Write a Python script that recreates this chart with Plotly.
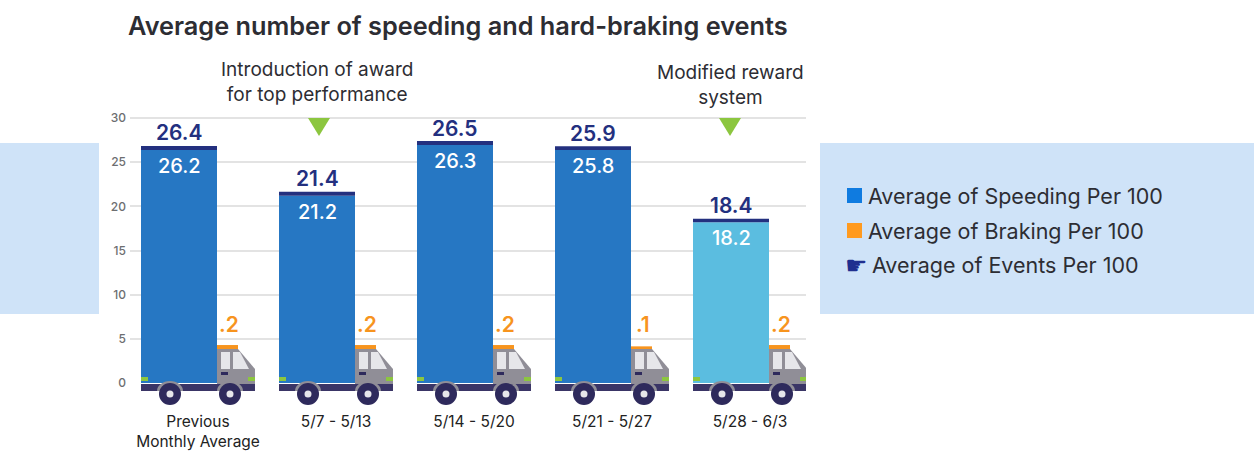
import plotly.graph_objects as go

# Data
periods = ["Previous<br>Monthly Average", "5/7 - 5/13", "5/14 - 5/20", "5/21 - 5/27", "5/28 - 6/3"]
events_labels = ["26.4", "21.4", "26.5", "25.9", "18.4"]
speeding_labels = ["26.2", "21.2", "26.3", "25.8", "18.2"]
braking_labels = [".2", ".2", ".2", ".1", ".2"]

# heights as drawn in the picture (they differ a little from the printed labels)
speeding_drawn = [26.4, 21.2, 26.95, 26.4, 18.2]
events_cap = [0.45, 0.45, 0.45, 0.4, 0.4]
braking_drawn = [0.45, 0.45, 0.45, 0.3, 0.45]

y_ticks = [0, 5, 10, 15, 20, 25, 30]
legend_labels = ["Average of Speeding Per 100", "Average of Braking Per 100", "Average of Events Per 100"]

FONT = "Inter"
W, H = 1254, 459
BLUE = "#2677c3"
LIGHT_BLUE = "#5bbde0"
NAVY = "#23307f"
ORANGE = "#f7941e"
GREEN = "#8cc63f"
GREY = "#908e97"
CHASSIS = "#3a3566"
WHEEL = "#2e2a5c"
PANEL = "#cfe3f8"
WINDOW = "#e6e6ea"
INK = "#2d2d33"

X0_PX, STEP_PX = 198, 138      # pixel of first group centre, pixels between groups
Y0_PX, UNIT_PX = 383, 8.83     # pixel of y=0, pixels per unit


def dx(px):
    return (px - X0_PX) / STEP_PX


def dy(px):
    return (Y0_PX - px) / UNIT_PX


xs = list(range(len(periods)))
fig = go.Figure()

fig.add_trace(go.Bar(
    x=xs, y=speeding_drawn, width=76 / STEP_PX, offset=-57 / STEP_PX,
    marker=dict(color=[BLUE, BLUE, BLUE, BLUE, LIGHT_BLUE], line_width=0),
    name=legend_labels[0],
))
fig.add_trace(go.Bar(
    x=xs, y=events_cap, base=speeding_drawn, width=76 / STEP_PX, offset=-57 / STEP_PX,
    marker=dict(color=NAVY, line_width=0), name=legend_labels[2],
))
fig.add_trace(go.Bar(
    x=xs, y=braking_drawn, base=dy(349), width=21 / STEP_PX, offset=19 / STEP_PX,
    marker=dict(color=ORANGE, line_width=0), name=legend_labels[1],
))

shapes = []
annotations = []


def paper_rect(x0, y0, x1, y1, color, layer="below"):
    shapes.append(dict(type="rect", xref="paper", yref="paper", x0=x0 / W, x1=x1 / W,
                       y0=1 - y0 / H, y1=1 - y1 / H, fillcolor=color, line_width=0, layer=layer))


def poly(points, color):
    path = "M " + " L ".join(f"{dx(a):.4f},{dy(b):.4f}" for a, b in points) + " Z"
    shapes.append(dict(type="path", path=path, fillcolor=color, line_width=0, layer="above"))


def circle(cx, cy, r, color):
    shapes.append(dict(type="circle", x0=dx(cx - r), x1=dx(cx + r), y0=dy(cy + r), y1=dy(cy - r),
                       fillcolor=color, line_width=0, layer="above"))


def arch(cx, base, rx, ry, color):
    kx, ky = 0.55 * rx, 0.55 * ry
    p = (f"M {dx(cx - rx):.4f},{dy(base):.4f} "
         f"C {dx(cx - rx):.4f},{dy(base - ky):.4f} {dx(cx - kx):.4f},{dy(base - ry):.4f} {dx(cx):.4f},{dy(base - ry):.4f} "
         f"C {dx(cx + kx):.4f},{dy(base - ry):.4f} {dx(cx + rx):.4f},{dy(base - ky):.4f} {dx(cx + rx):.4f},{dy(base):.4f} Z")
    shapes.append(dict(type="path", path=p, fillcolor=color, line_width=0, layer="above"))


def text(px, py, s, size, color, weight=400, anchor="center", family=FONT):
    annotations.append(dict(xref="paper", yref="paper", x=px / W, y=1 - py / H, text=s, showarrow=False,
                            xanchor=anchor, yanchor="middle",
                            font=dict(family=family, size=size, color=color, weight=weight)))


# side panels
paper_rect(0, 143, 99, 314, PANEL)
paper_rect(820, 143, W, 314, PANEL)

# truck drawn around each bar
for i in xs:
    o = i * STEP_PX
    poly([(217 + o, 349), (238 + o, 349), (255 + o, 369), (255 + o, 384), (217 + o, 384)], GREY)
    poly([(221 + o, 352), (230 + o, 352), (230 + o, 369), (221 + o, 369)], WINDOW)
    poly([(233 + o, 352), (240 + o, 352), (249 + o, 369), (233 + o, 369)], WINDOW)
    poly([(221 + o, 372), (228 + o, 372), (228 + o, 375), (221 + o, 375)], WHEEL)
    poly([(141 + o, 377), (148 + o, 377), (148 + o, 381), (141 + o, 381)], GREEN)
    poly([(248 + o, 377), (255 + o, 377), (255 + o, 381), (248 + o, 381)], GREEN)
    poly([(141 + o, 384), (255 + o, 384), (255 + o, 391), (141 + o, 391)], CHASSIS)
    for cx in (170 + o, 230 + o):
        arch(cx, 391, 13, 10, GREY)
        circle(cx, 394, 11, WHEEL)
        circle(cx, 394, 3.5, WINDOW)

    bar_x = i - 19 / STEP_PX
    top = speeding_drawn[i] + events_cap[i]
    annotations.append(dict(x=bar_x, y=top, text=events_labels[i], showarrow=False, yshift=13, yanchor="middle",
                            font=dict(family=FONT, size=21, color=NAVY, weight=600)))
    annotations.append(dict(x=bar_x, y=speeding_drawn[i], text=speeding_labels[i], showarrow=False, yshift=-16,
                            yanchor="middle", font=dict(family=FONT, size=20, color="white", weight=500)))
    annotations.append(dict(x=i + 31 / STEP_PX, y=dy(324), text=braking_labels[i], showarrow=False, yanchor="middle",
                            font=dict(family=FONT, size=21, color=ORANGE, weight=600)))

# darker top grid line
shapes.append(dict(type="line", x0=dx(130), x1=dx(806), y0=30, y1=30, line=dict(color="#cfcfcf", width=2), layer="below"))

# note triangles
for cx in (319, 730):
    poly([(cx - 11, 118), (cx + 11, 118), (cx, 136)], GREEN)

text(458, 26, "Average number of speeding and hard-braking events", 25.3, INK, 600)
text(317, 82, "Introduction of award<br>for top performance", 19, INK, 400)
text(730, 85, "Modified reward<br>system", 19, INK, 400)

# legend
paper_rect(847, 188, 862, 203, "#0f7be0")
paper_rect(847, 223, 862, 238, "#ff9a1f")
text(866, 196, legend_labels[0], 21.5, INK, 400, "left")
text(866, 231, legend_labels[1], 21.5, INK, 400, "left")
text(843, 265, "☛", 25, "#1f2f8f", 400, "left", "DejaVu Sans")
text(870, 265, legend_labels[2], 21.5, INK, 400, "left")

fig.update_layout(
    width=W, height=H,
    margin=dict(l=0, r=0, t=0, b=0),
    paper_bgcolor="white", plot_bgcolor="white",
    showlegend=False,
    barmode="overlay",
    shapes=shapes,
    annotations=annotations,
    font=dict(family=FONT),
    xaxis=dict(
        domain=[130 / W, 806 / W],
        range=[dx(130), dx(806)],
        tickvals=xs, ticktext=periods,
        tickfont=dict(family=FONT, size=15.5, color="#222222"),
        showgrid=False, zeroline=False, ticks="",
    ),
    yaxis=dict(
        domain=[1 - 410 / H, 1 - 110 / H],
        range=[dy(410), dy(110)],
        tickvals=y_ticks,
        tickfont=dict(family=FONT, size=12, color="#6d6e71", weight=500),
        ticklabelstandoff=3,
        gridcolor="#e3e3e3", gridwidth=1.5,
        zeroline=True, zerolinecolor="white",
        ticks="",
    ),
)

fig.write_html("out.html", config={"displayModeBar": False}, post_script="document.body.style.margin='0';")
